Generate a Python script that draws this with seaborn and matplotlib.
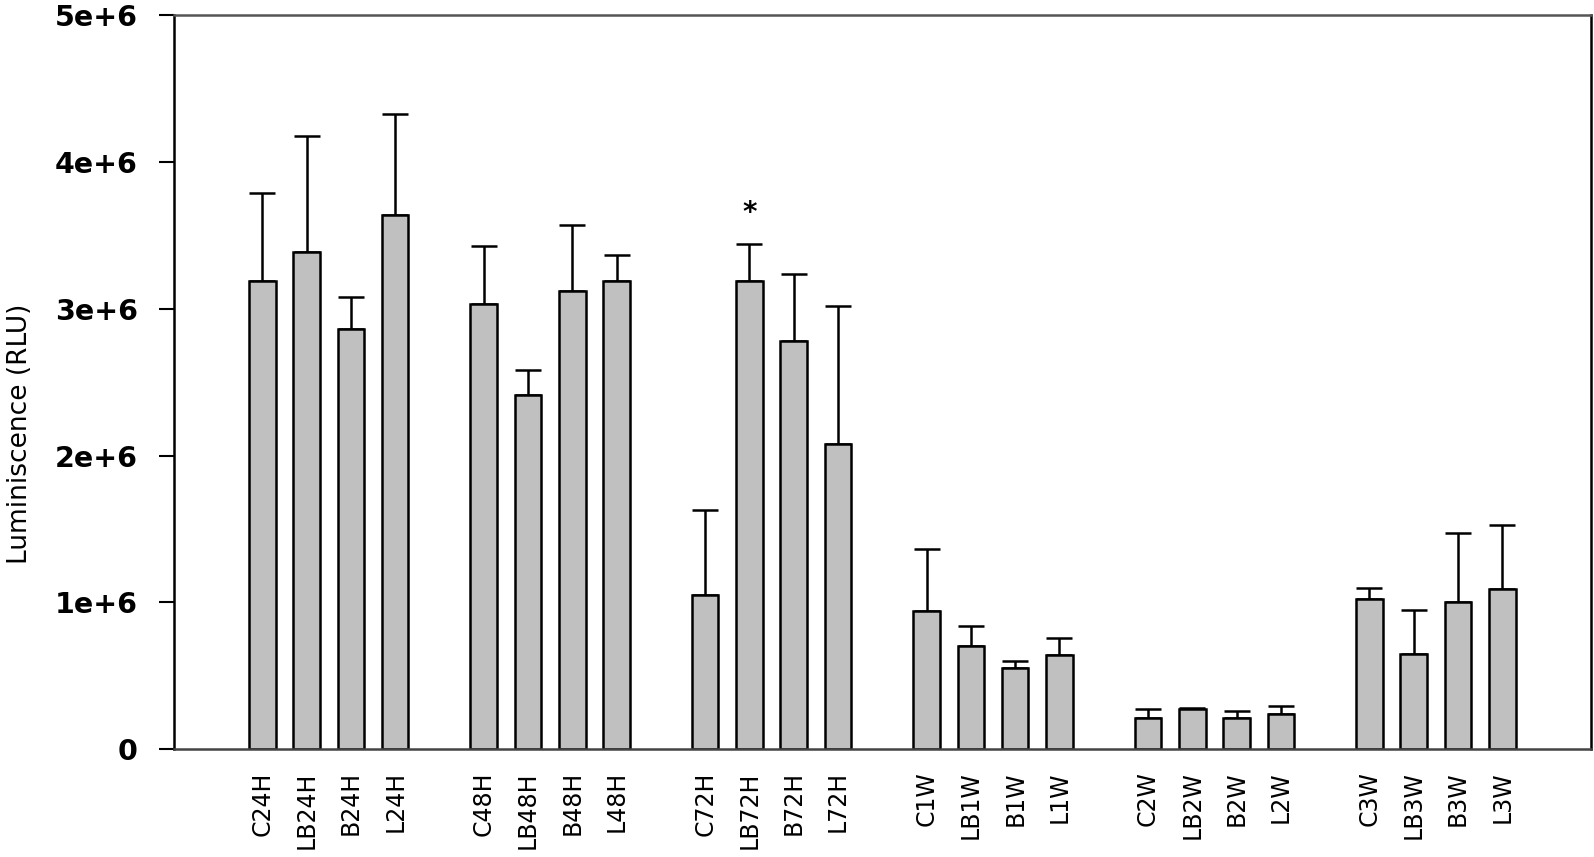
import numpy as np
import pandas as pd
import seaborn as sns
import matplotlib
matplotlib.use('Agg')
import matplotlib.pyplot as plt

# Data (luminescence, RLU)
groups = ['24H', '48H', '72H', '1W', '2W', '3W']
prefixes = ['C', 'LB', 'B', 'L']
labels = ['C24H', 'LB24H', 'B24H', 'L24H',
          'C48H', 'LB48H', 'B48H', 'L48H',
          'C72H', 'LB72H', 'B72H', 'L72H',
          'C1W', 'LB1W', 'B1W', 'L1W',
          'C2W', 'LB2W', 'B2W', 'L2W',
          'C3W', 'LB3W', 'B3W', 'L3W']
means = [3.19e6, 3.39e6, 2.86e6, 3.64e6,
         3.03e6, 2.41e6, 3.12e6, 3.19e6,
         1.05e6, 3.19e6, 2.78e6, 2.08e6,
         0.94e6, 0.70e6, 0.55e6, 0.64e6,
         0.21e6, 0.27e6, 0.21e6, 0.24e6,
         1.02e6, 0.65e6, 1.00e6, 1.09e6]
err_tops = [3.79e6, 4.18e6, 3.08e6, 4.33e6,
            3.43e6, 2.58e6, 3.57e6, 3.37e6,
            1.63e6, 3.44e6, 3.24e6, 3.02e6,
            1.36e6, 0.84e6, 0.60e6, 0.76e6,
            0.27e6, 0.28e6, 0.26e6, 0.29e6,
            1.10e6, 0.95e6, 1.47e6, 1.53e6]
starred = ['LB72H']

# positions: 4 bars per group, one empty slot between groups
pos = [g * 5 + i for g in range(len(groups)) for i in range(len(prefixes))]
df = pd.DataFrame({'pos': pos, 'label': labels, 'mean': means, 'top': err_tops})
df['err'] = df['top'] - df['mean']

sns.set_style('white')
plt.rcParams['font.family'] = ['DejaVu Sans']
plt.rcParams['text.color'] = 'black'
plt.rcParams['axes.labelcolor'] = 'black'
plt.rcParams['xtick.color'] = 'black'
plt.rcParams['ytick.color'] = 'black'

fig = plt.figure(figsize=(15.94, 8.57), dpi=100)
ax = fig.add_axes([0.109, 0.126, 0.889, 0.856])

# error bars first so bars sit on top of the lower part
ax.errorbar(df['pos'], df['mean'], yerr=[np.zeros(len(df)), df['err']],
            fmt='none', ecolor='black', elinewidth=1.8, capsize=9.5,
            capthick=1.8, zorder=1)
sns.barplot(data=df, x='pos', y='mean', native_scale=True, width=0.6,
            color='#c0c0c0', edgecolor='black', linewidth=1.8,
            saturation=1, errorbar=None, ax=ax, zorder=2)

for p in df[df['label'].isin(starred)].itertuples():
    ax.text(p.pos, p.top + 0.12e6, '*', ha='center', va='bottom',
            fontsize=20, fontweight='bold')

ax.set_xlim(-2, 30)
ax.set_ylim(0, 5e6)
ax.set_xticks(df['pos'])
ax.set_xticklabels(df['label'], rotation=90, fontsize=17)
ax.set_yticks([0, 1e6, 2e6, 3e6, 4e6, 5e6])
ax.set_yticklabels(['0', '1e+6', '2e+6', '3e+6', '4e+6', '5e+6'],
                   fontsize=20.5, fontweight='bold')
ax.tick_params(axis='x', length=0, pad=16)
ax.tick_params(axis='y', direction='out', length=11, width=1.5, pad=15, left=True)
ax.set_xlabel('')
ax.set_ylabel('Luminiscence (RLU)', fontsize=19)
ax.yaxis.set_label_coords(-0.099, 0.43)

for side in ['left', 'right', 'top', 'bottom']:
    ax.spines[side].set_visible(True)
    ax.spines[side].set_linewidth(1.8)
    ax.spines[side].set_color('black')
ax.spines['top'].set_color('#555555')
ax.spines['bottom'].set_color('#444444')

fig.savefig('out.png', dpi=100)
